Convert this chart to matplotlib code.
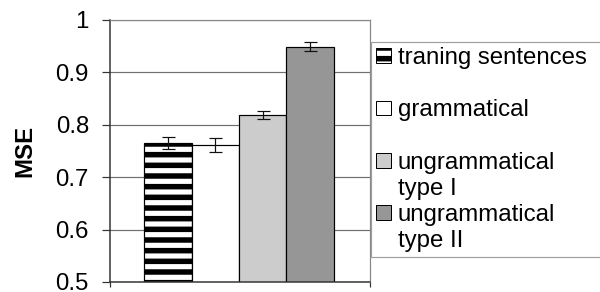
import matplotlib
matplotlib.use("Agg")
import matplotlib.pyplot as plt
from matplotlib.patches import Patch

# ---- data ----
series = ["traning sentences", "grammatical", "ungrammatical\ntype I", "ungrammatical\ntype II"]
values = [0.765, 0.761, 0.819, 0.949]
errors = [0.011, 0.013, 0.007, 0.009]
colors = ["white", "white", "#CCCCCC", "#969696"]
hatches = ["-", "", "", ""]
y_ticks = [0.5, 0.6, 0.7, 0.8, 0.9, 1.0]
y_ticklabels = ["0.5", "0.6", "0.7", "0.8", "0.9", "1"]
y_label = "MSE"

DPI = 64
def pt(px):
    return px * 72.0 / DPI

plt.rcParams["font.family"] = ["Liberation Sans", "DejaVu Sans"]
plt.rcParams["hatch.linewidth"] = pt(5.5)
plt.rcParams["hatch.color"] = "black"

fig = plt.figure(figsize=(600 / DPI, 292 / DPI), dpi=DPI)
ax = fig.add_axes([110 / 600, 1 - 282 / 292, 260 / 600, 262 / 292])

x = list(range(len(values)))
for i in x:
    ax.bar(i, values[i], width=1.0, bottom=0, color=colors[i],
           edgecolor="black", linewidth=pt(1.2), hatch=hatches[i] or None,
           zorder=2)
ax.errorbar(x, values, yerr=errors, fmt="none", ecolor="#111111",
            elinewidth=pt(1.2), capsize=pt(6.5), capthick=pt(1.2), zorder=3)

ax.set_ylim(0.5, 1.0)
ax.set_xlim(-1.216, 4.258)
ax.set_yticks(y_ticks)
ax.set_yticklabels(y_ticklabels, fontsize=pt(24))
ax.set_xticks([-1.216, 4.258])
ax.set_xticklabels([])
ax.tick_params(axis="y", direction="out", length=pt(8), width=pt(1.2),
               color="#333333", pad=pt(13))
ax.tick_params(axis="x", direction="out", length=pt(5), width=pt(1.2),
               color="#333333")
ax.yaxis.grid(True, color="#707070", linewidth=pt(1.2), zorder=0)
ax.set_axisbelow(True)
for s in ["top", "right"]:
    ax.spines[s].set_color("#888888")
    ax.spines[s].set_linewidth(pt(1.2))
for s in ["left", "bottom"]:
    ax.spines[s].set_color("#333333")
    ax.spines[s].set_linewidth(pt(1.5))

ax.set_ylabel(y_label, fontsize=pt(24), fontweight="bold")
ax.yaxis.set_label_coords(-0.285, 0.5)

# ---- legend (multi-line labels split into rows, handle on first line) ----
handles, labels = [], []
blank = Patch(facecolor="none", edgecolor="none")
for i, name in enumerate(series):
    parts = name.split("\n")
    handles.append(Patch(facecolor=colors[i], edgecolor="black",
                         linewidth=pt(1), hatch=hatches[i] or None))
    labels.append(parts[0])
    handles.append(blank)
    labels.append(parts[1] if len(parts) > 1 else " ")

leg = fig.legend(handles, labels, loc="upper left",
                 bbox_to_anchor=(371 / 600, 0, 240 / 600, 1 - 42 / 292),
                 bbox_transform=fig.transFigure, mode="expand",
                 fontsize=pt(24), frameon=True, fancybox=False,
                 borderaxespad=0, borderpad=0.22, labelspacing=0.17,
                 handlelength=0.6, handleheight=0.58, handletextpad=0.3)
leg.get_frame().set_edgecolor("#888888")
leg.get_frame().set_linewidth(pt(1.2))

fig.savefig("out.png", dpi=DPI)
